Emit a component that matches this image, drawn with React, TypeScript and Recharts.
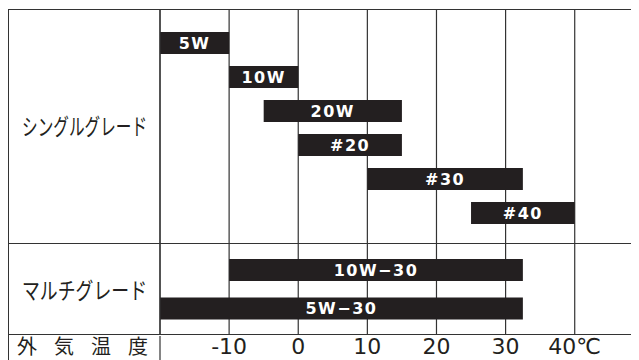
import { BarChart, Bar, XAxis, YAxis, CartesianGrid, LabelList, Label } from 'recharts';

// oil grade vs outside temperature (°C)
const singleGrades = ['5W', '10W', '20W', '#20', '#30', '#40'];
const singleLow = [-20, -10, -5, 0, 10, 25];
const singleHigh = [-10, 0, 15, 15, 32.5, 40];

const multiGrades = ['10W−30', '5W−30'];
const multiLow = [-10, -20];
const multiHigh = [32.5, 32.5];

const tempTicks = [-10, 0, 10, 20, 30, 40];
const tempLabels = ['-10', '0', '10', '20', '30', '40℃'];

const WIDTH = 630;
const AXIS_W = 151;
const X_DOMAIN: [number, number] = [-20, 49.3];
const INK = '#231f20';
const LINE = '#333';
const JP = "'Noto Sans CJK JP', sans-serif";

const toRows = (names: string[], low: number[], high: number[]) =>
  names.map((name, i) => ({ name, range: [low[i], high[i]] }));

const singleData = toRows(singleGrades, singleLow, singleHigh);
const multiData = toRows(multiGrades, multiLow, multiHigh);

// label for the left column, centred in the y-axis box
const sideLabel =
  (text: string, opts: { fontSize: number; textLength: number; adjust: string; dy?: number; dx?: number; baseline?: number }) =>
  (props: any) => {
    const vb = props.viewBox || { x: 0, y: 0, width: AXIS_W, height: 0 };
    const cx = vb.x + vb.width / 2 + (opts.dx || 0);
    const y = opts.baseline != null ? opts.baseline : vb.y + vb.height / 2 + (opts.dy || 0);
    return (
      <text
        x={cx}
        y={y}
        textAnchor="middle"
        dominantBaseline={opts.baseline != null ? 'alphabetic' : 'central'}
        fontSize={opts.fontSize}
        fontFamily={JP}
        fill={INK}
        textLength={opts.textLength}
        lengthAdjust={opts.adjust}
      >
        {text}
      </text>
    );
  };

function GradeSection({ data, label, height, padding, labelDy }: any) {
  return (
    <BarChart
      width={WIDTH}
      height={height}
      data={data}
      layout="vertical"
      margin={{ top: 0, right: 0, bottom: 0, left: 0 }}
      barSize={22}
    >
      <CartesianGrid horizontal={false} stroke={LINE} strokeWidth={1.2} />
      <XAxis type="number" domain={X_DOMAIN} ticks={tempTicks} allowDataOverflow hide />
      <YAxis
        type="category"
        dataKey="name"
        width={AXIS_W}
        tick={false}
        tickLine={false}
        axisLine={{ stroke: LINE, strokeWidth: 1.2 }}
        padding={padding}
      >
        <Label content={sideLabel(label, { fontSize: 23, textLength: 125, adjust: 'spacingAndGlyphs', dy: labelDy })} />
      </YAxis>
      <Bar dataKey="range" fill={INK} isAnimationActive={false}>
        <LabelList
          dataKey="name"
          position="center"
          fill="#fff"
          fontSize={16}
          fontWeight="bold"
          fontFamily="'DejaVu Sans', sans-serif"
          letterSpacing={1.5}
        />
      </Bar>
    </BarChart>
  );
}

const TempTick = (props: any) => {
  const i = tempTicks.indexOf(props.payload.value);
  return (
    <text
      x={props.x}
      y={19}
      textAnchor="middle"
      fontSize={22}
      fontFamily="'DejaVu Sans', sans-serif"
      fill={INK}
    >
      {tempLabels[i]}
    </text>
  );
};

export default function App() {
  const border = `1px solid ${LINE}`;
  return (
    <div style={{ paddingTop: 1 }}>
      <style>{'html,body{overflow:hidden} .temp-row .recharts-surface{overflow:visible}'}</style>
      <div style={{ width: WIDTH, borderTop: border, borderLeft: border }}>
        <div style={{ height: 233, borderBottom: border }}>
          <GradeSection data={singleData} label="シングルグレード" height={233} padding={{ top: 16, bottom: 13 }} labelDy={-2} />
        </div>
        <div style={{ height: 90, borderBottom: border }}>
          <GradeSection data={multiData} label="マルチグレード" height={90} padding={{ top: 7, bottom: 6 }} labelDy={0} />
        </div>
        <div className="temp-row" style={{ height: 26 }}>
          <BarChart
            width={WIDTH}
            height={26}
            data={[{ name: '外気温度' }]}
            layout="vertical"
            margin={{ top: 0, right: 0, bottom: 0, left: 0 }}
          >
            <XAxis
              type="number"
              orientation="top"
              height={1}
              domain={X_DOMAIN}
              ticks={tempTicks}
              interval={0}
              allowDataOverflow
              axisLine={false}
              tickLine={false}
              tickSize={0}
              tick={<TempTick />}
            />
            <YAxis
              type="category"
              dataKey="name"
              width={AXIS_W}
              tick={false}
              tickLine={false}
              axisLine={{ stroke: LINE, strokeWidth: 1.2 }}
            >
              <Label content={sideLabel('外気温度', { fontSize: 20, textLength: 131, adjust: 'spacing', dx: -2, baseline: 18.5 })} />
            </YAxis>
          </BarChart>
        </div>
      </div>
    </div>
  );
}
